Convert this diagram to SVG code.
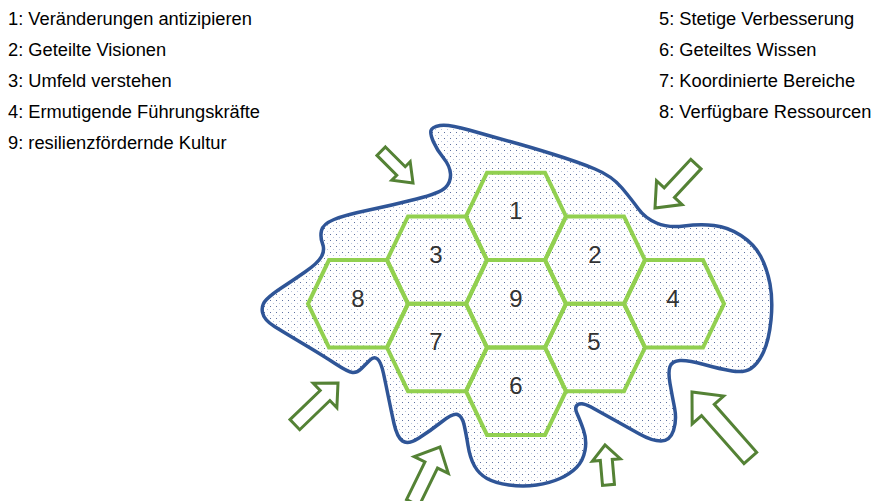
<svg xmlns="http://www.w3.org/2000/svg" width="877" height="501" viewBox="0 0 877 501">
<style>
.legend{font-family:"Liberation Sans",Arial,sans-serif;font-size:18.3px;fill:#000}
.num{font-family:"Liberation Sans",Arial,sans-serif;font-size:24px;fill:#333;text-anchor:middle}
.hex{fill:none;stroke:#92D050;stroke-width:4;stroke-linejoin:miter}
.arrow{fill:#fff;stroke:#548235;stroke-width:3;stroke-linejoin:miter}
.blob{fill:url(#dots);stroke:#2F5597;stroke-width:3.5}
</style>
<defs>
<pattern id="dots" width="6" height="6" patternUnits="userSpaceOnUse">
<rect width="6" height="6" fill="#fff"/>
<rect x="0" y="0" width="1" height="1" fill="#5f71a0"/>
<rect x="3" y="3" width="1" height="1" fill="#b8c3dc"/>
</pattern>
<polygon id="hexshape" points="-50,0 -29,-43.7 29,-43.7 50,0 29,43.7 -29,43.7"/>
</defs>
<rect width="877" height="501" fill="#fff"/>
<g id="legend">
<text class="legend" x="8" y="25">1: Veränderungen antizipieren</text>
<text class="legend" x="8" y="56">2: Geteilte Visionen</text>
<text class="legend" x="8" y="87">3: Umfeld verstehen</text>
<text class="legend" x="8" y="118">4: Ermutigende Führungskräfte</text>
<text class="legend" x="8" y="149">9: resilienzfördernde Kultur</text>
<text class="legend" x="659" y="25">5: Stetige Verbesserung</text>
<text class="legend" x="659" y="56">6: Geteiltes Wissen</text>
<text class="legend" x="659" y="87">7: Koordinierte Bereiche</text>
<text class="legend" x="659" y="118">8: Verfügbare Ressourcen</text>
</g>
<g id="blob">
<path class="blob" d="M 431,130.5 Q 432,127 440,125.5 Q 448,124 469,130 Q 490,136 510,141.5 Q 530,147 554,154.5 Q 578,162 595,169 Q 612,176 622,188 Q 632,200 638.5,209 Q 645,218 656.5,223 Q 668,228 684,226 Q 700,224 714,225.5 Q 728,227 741,235.5 Q 754,244 760.5,256 Q 767,268 770,284 Q 773,300 771,320 Q 769,340 763.5,352 Q 758,364 751,368.5 Q 744,373 732,371 Q 720,369 704,364.5 Q 688,360 680,360.5 Q 672,361 670,366.5 Q 668,372 670,383.5 Q 672,395 674.5,407.5 Q 677,420 673.5,430.5 Q 670,441 661,441 Q 652,441 639.5,434 Q 627,427 613.5,419.5 Q 600,412 591,407 Q 582,402 578,404.5 Q 574,407 577,413.5 Q 580,420 583.5,430 Q 587,440 585,450.5 Q 583,461 576.5,467.5 Q 570,474 560,478.5 Q 550,483 536.5,485 Q 523,487 509,485 Q 495,483 487,478.5 Q 479,474 474.5,466 Q 470,458 468,445.5 Q 466,433 464,424.5 Q 462,416 457.5,414.5 Q 453,413 441.5,422 Q 430,431 419,438 Q 408,445 402.5,441 Q 397,437 394,423.5 Q 391,410 388.5,397.5 Q 386,385 383.5,373.5 Q 381,362 377.5,359 Q 374,356 370,360 Q 366,364 361.5,368.5 Q 357,373 352.5,372.5 Q 348,372 335,363.5 Q 322,355 303.5,344 Q 285,333 274.5,326.5 Q 264,320 262.5,312.5 Q 261,305 266.5,299.5 Q 272,294 282,287.5 Q 292,281 305,272 Q 318,263 321.5,256.5 Q 325,250 322.5,243.5 Q 320,237 321.5,230.5 Q 323,224 334,219.5 Q 345,215 369,210 Q 393,205 416.5,199 Q 440,193 445.5,187.5 Q 451,182 450.5,174 Q 450,166 443.5,158 Q 437,150 433.5,142 Q 430,134 431,130.5 Z"/>
</g>
<g id="hex1"><use href="#hexshape" class="hex" transform="translate(516,216.4)"/><text class="num" x="516" y="219">1</text></g>
<g id="hex3"><use href="#hexshape" class="hex" transform="translate(437,260.1)"/><text class="num" x="436" y="262.5">3</text></g>
<g id="hex2"><use href="#hexshape" class="hex" transform="translate(595,260.1)"/><text class="num" x="595" y="262.5">2</text></g>
<g id="hex8"><use href="#hexshape" class="hex" transform="translate(358,303.8)"/><text class="num" x="358" y="306.5">8</text></g>
<g id="hex9"><use href="#hexshape" class="hex" transform="translate(516,303.8)"/><text class="num" x="516" y="306.5">9</text></g>
<g id="hex4"><use href="#hexshape" class="hex" transform="translate(674,303.8)"/><text class="num" x="673" y="306.5">4</text></g>
<g id="hex7"><use href="#hexshape" class="hex" transform="translate(437,347.5)"/><text class="num" x="436" y="350">7</text></g>
<g id="hex5"><use href="#hexshape" class="hex" transform="translate(595,347.5)"/><text class="num" x="594" y="350">5</text></g>
<g id="hex6"><use href="#hexshape" class="hex" transform="translate(516,391.2)"/><text class="num" x="516" y="394">6</text></g>
<g id="arrows">
<polygon class="arrow" transform="translate(413,183) rotate(45)" points="-45,-6 -17,-6 -17,-13 0,0 -17,13 -17,6 -45,6"/>
<polygon class="arrow" transform="translate(655,208) rotate(133)" points="-60,-7 -21,-7 -21,-17.5 0,0 -21,17.5 -21,7 -60,7"/>
<polygon class="arrow" transform="translate(338,383) rotate(-44)" points="-60,-7 -18,-7 -18,-17 0,0 -18,17 -18,7 -60,7"/>
<polygon class="arrow" transform="translate(692,392) rotate(228.5)" points="-88,-8.5 -24,-8.5 -24,-21 0,0 -24,21 -24,8.5 -88,8.5"/>
<polygon class="arrow" transform="translate(440,447) rotate(-64)" points="-62,-7 -20,-7 -20,-19 0,0 -20,19 -20,7 -62,7"/>
<polygon class="arrow" transform="translate(605,445) rotate(-95)" points="-40,-6 -15,-6 -15,-14 0,0 -15,14 -15,6 -40,6"/>
</g>
</svg>
